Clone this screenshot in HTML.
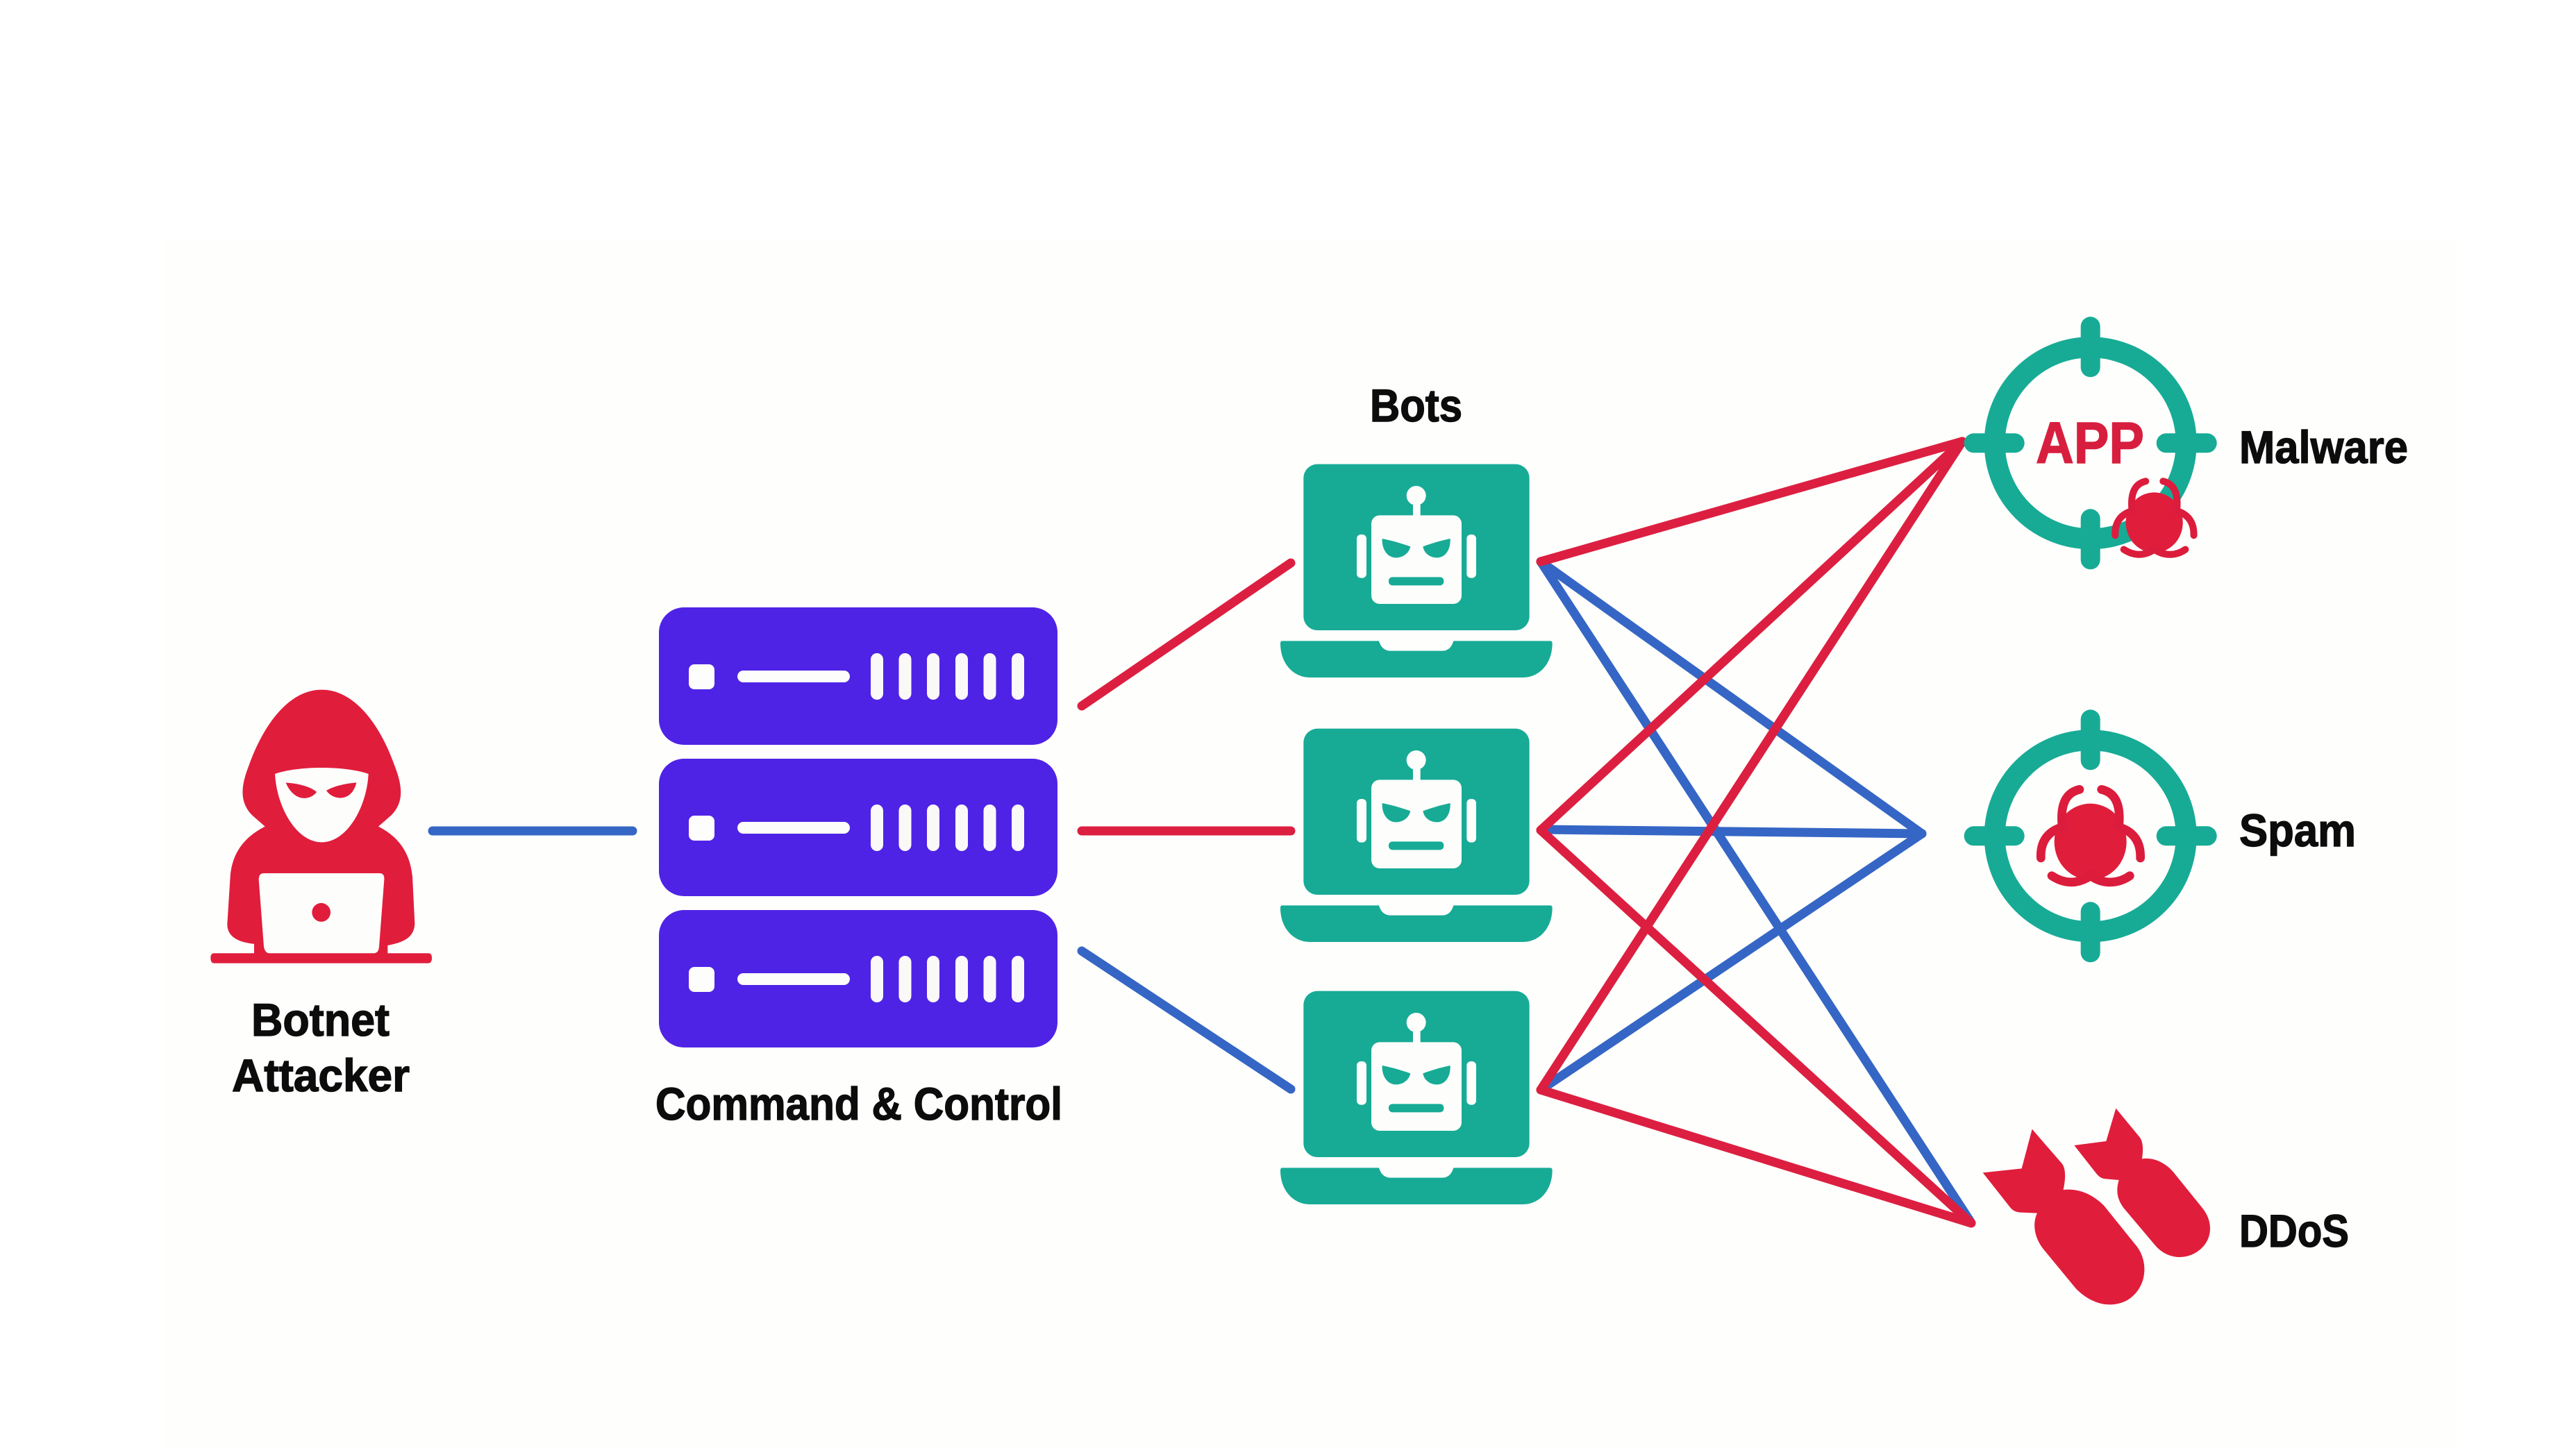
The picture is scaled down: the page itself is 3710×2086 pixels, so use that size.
<!DOCTYPE html>
<html><head><meta charset="utf-8"><title>Botnet diagram</title>
<style>html,body{margin:0;padding:0;background:#fff}svg{display:block}
text{font-family:"Liberation Sans",Arial,sans-serif;font-weight:700;fill:#0c0c0c;stroke:#0c0c0c;stroke-width:1.4}</style></head>
<body>
<svg xmlns="http://www.w3.org/2000/svg" width="3710" height="2086" viewBox="0 0 3710 2086">
<defs>
<g id="srv">
<rect x="949" y="875" width="574" height="198" rx="36" fill="#4f23e6"/>
<rect x="992" y="957" width="37" height="36" rx="8" fill="#fdfdfb"/>
<rect x="1062" y="966" width="162" height="17" rx="8.5" fill="#fdfdfb"/>
<g fill="#fbf9f8">
<rect x="1254" y="941" width="18" height="67" rx="9"/>
<rect x="1294.5" y="941" width="18" height="67" rx="9"/>
<rect x="1335" y="941" width="18" height="67" rx="9"/>
<rect x="1376" y="941" width="18" height="67" rx="9"/>
<rect x="1416.5" y="941" width="18" height="67" rx="9"/>
<rect x="1457" y="941" width="18" height="67" rx="9"/>
</g>
</g>
<g id="bot" transform="scale(.33333)">
<rect x="172" y="86" width="976" height="718" rx="60" fill="#17ab96"/>
<path d="M80 850L498 850Q510 893 550 893L770 893Q808 893 820 850L1238 850Q1247 850 1247 860C1247 950 1190 1008 1120 1008L200 1008C130 1008 72 950 72 860Q72 850 80 850Z" fill="#17ab96"/>
<g fill="#fdfdfb">
<circle cx="659" cy="222" r="42"/>
<rect x="645" y="250" width="32" height="70"/>
<rect x="465" y="307" width="390" height="383" rx="36"/>
<rect x="402" y="390" width="42" height="188" rx="18"/>
<rect x="877" y="390" width="41" height="188" rx="18"/>
</g>
<g fill="#17ab96">
<path d="M512 408C550 415 600 430 634 442C625 480 590 492 565 490C530 485 510 450 512 408Z"/>
<path d="M806 408C770 415 720 430 688 442C695 480 730 492 755 490C790 485 808 450 806 408Z"/>
<rect x="540" y="574" width="238" height="36" rx="16"/>
</g>
</g>
<g id="tgt" fill="none" stroke="#17ab96" stroke-linecap="round">
<circle r="138" stroke-width="30"/>
<g stroke-width="28">
<path d="M0 -168V-109M0 168V109M-168 0H-109M168 0H109"/>
</g>
</g>
<g id="bug">
<ellipse cx="632" cy="638" rx="156" ry="165" fill="#e11d3c"/>
<g fill="none" stroke="#dc1c3c" stroke-width="38" stroke-linecap="round">
<path d="M585 412C530 425 500 470 510 570"/>
<path d="M680 412C735 425 765 470 755 570"/>
<path d="M418 708C415 640 445 590 520 572"/>
<path d="M848 708C850 640 820 590 745 572"/>
<path d="M465 785C510 815 570 830 640 780"/>
<path d="M802 785C760 815 690 830 626 780"/>
</g>
</g>
</defs>

<rect width="3710" height="2086" fill="#fff"/>
<rect x="237" y="345" width="3300" height="1741" fill="#fefefc"/>

<!-- connectors -->
<g fill="none" stroke-linecap="round" stroke-width="13">
<g stroke="#3566c5">
<path d="M623 1197H911"/>
<path d="M1558 1370L1859 1569"/>
<path d="M2219 809L2768 1201"/>
<path d="M2219 809L2838 1760"/>
<path d="M2222 1195L2768 1201"/>
<path d="M2222 1568L2768 1201"/>
</g>
<g stroke="#dc1f40">
<path d="M1558 1017L1859 811"/>
<path d="M1558 1197H1859"/>
<path d="M2219 809L2826 636"/>
<path d="M2219 1196L2826 636"/>
<path d="M2219 1570L2826 636"/>
<path d="M2219 1196L2839 1762"/>
<path d="M2219 1570L2839 1762"/>
</g>
</g>

<!-- attacker -->
<g transform="translate(280,960) scale(.33333,.42088)">
<path d="M550 80C695 80 805 205 865 340C905 420 900 470 850 510L795 548C860 575 930 620 942 720L952 880C950 930 900 945 835 955L835 982L1010 982Q1026 982 1026 998Q1026 1016 1010 1016L85 1016Q70 1016 70 998Q70 982 85 982L258 982L258 950C200 945 140 930 142 880L155 720C165 620 240 575 305 548L250 510C200 470 195 420 235 340C295 205 405 80 550 80Z" fill="#e11d3c"/>
<path d="M348 368C450 340 650 340 752 368C745 480 660 602 550 602C440 602 355 480 348 368Z" fill="#fdfdfb"/>
<path d="M395 398C440 400 500 410 528 430C500 460 430 465 395 398Z" fill="#e11d3c"/>
<path d="M700 398C655 400 600 410 570 425C600 460 680 465 700 398Z" fill="#e11d3c"/>
<path d="M300 708L800 708Q822 708 820 730L798 960Q795 982 775 982L325 982Q305 982 300 960L278 730Q278 708 300 708Z" fill="#fdfdfb"/>
<ellipse cx="548" cy="842" rx="40" ry="32" fill="#e11d3c"/>
</g>
<text x="362" y="1492" font-size="66" textLength="199" lengthAdjust="spacingAndGlyphs">Botnet</text>
<text x="334" y="1572" font-size="66" textLength="256" lengthAdjust="spacingAndGlyphs">Attacker</text>

<!-- servers -->
<use href="#srv"/>
<use href="#srv" y="218"/>
<use href="#srv" y="436"/>
<text x="944" y="1613" font-size="66" textLength="586" lengthAdjust="spacingAndGlyphs">Command &amp; Control</text>

<!-- bots -->
<text x="1973" y="607" font-size="66" textLength="133" lengthAdjust="spacingAndGlyphs">Bots</text>
<use href="#bot" transform="translate(1820,640)"/>
<use href="#bot" transform="translate(1820,1021)"/>
<use href="#bot" transform="translate(1820,1399)"/>

<!-- targets -->
<use href="#tgt" transform="translate(3010.7,638.3)"/>
<text x="2932" y="667" font-size="84" textLength="156" lengthAdjust="spacingAndGlyphs" style="fill:#d81e3e;stroke:#d81e3e">APP</text>
<use href="#bug" transform="translate(2800,430) scale(.33333) translate(908,970) scale(.79) translate(-632,-640)"/>
<use href="#tgt" transform="translate(3010.7,1204.3)"/>
<use href="#bug" transform="translate(2800,1000) scale(.33333)"/>

<!-- bombs -->
<g transform="translate(2820,1570) scale(.33333)" fill="#e11d3c">
<path d="M320 170L450 320Q472 350 455 432C520 425 580 450 630 500L775 680C825 750 815 860 730 910C650 950 570 920 510 860L370 690C330 640 320 580 342 533L270 530C240 528 230 515 215 495L107 358L275 340Z"/>
<path d="M682 80L785 205Q805 230 795 298C850 290 900 320 930 355L1055 510C1105 570 1100 650 1040 695C980 740 900 730 850 670L715 510C690 475 680 440 695 390L640 385C620 385 610 375 600 365L502 240L640 222Z"/>
</g>

<text x="3225" y="667" font-size="66" textLength="243" lengthAdjust="spacingAndGlyphs">Malware</text>
<text x="3225" y="1219" font-size="66" textLength="168" lengthAdjust="spacingAndGlyphs">Spam</text>
<text x="3225" y="1796" font-size="66" textLength="158" lengthAdjust="spacingAndGlyphs">DDoS</text>
</svg>
</body></html>
